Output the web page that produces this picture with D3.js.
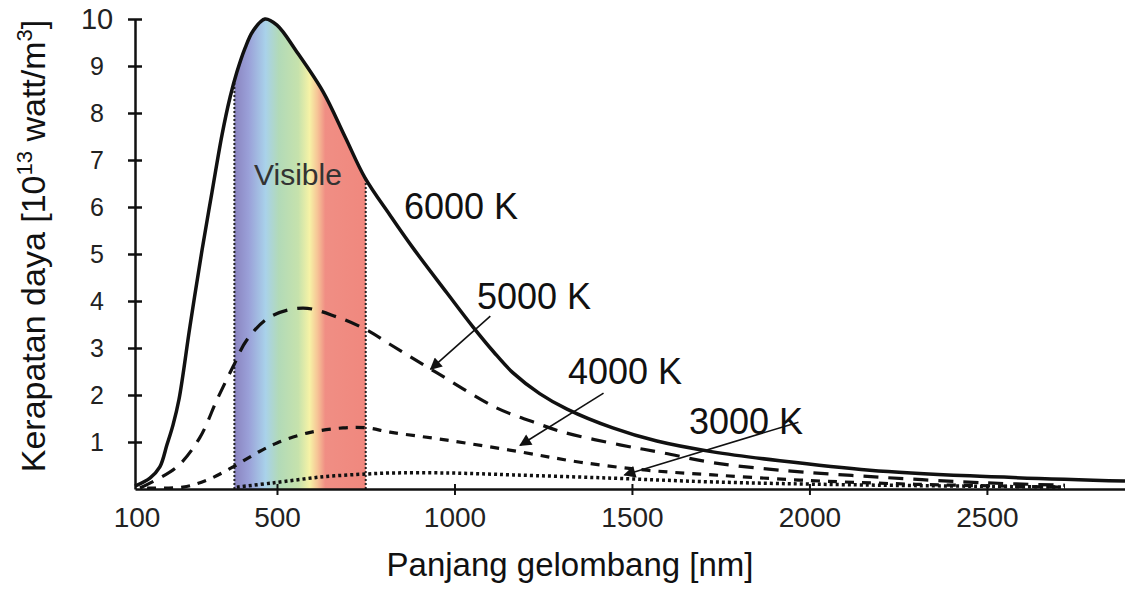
<!DOCTYPE html>
<html>
<head>
<meta charset="utf-8">
<script src="https://cdn.jsdelivr.net/npm/d3@7"></script>
<style>
  html, body { margin: 0; padding: 0; background: #fff; }
  svg { display: block; font-family: "Liberation Sans", Arial, sans-serif; }
</style>
</head>
<body>
<svg id="chart" width="1125" height="598"></svg>
<script>
// ---------- data ----------
const xTicks = [500, 1000, 1500, 2000, 2500];
const xTickLabels = ["500", "1000", "1500", "2000", "2500"];
const xOriginLabel = "100";
const yTicks = [1, 2, 3, 4, 5, 6, 7, 8, 9, 10];

const wl6000 = [100, 142, 170, 190, 207, 224, 255, 289, 317, 345, 368, 387, 410, 432, 466, 500, 556, 630, 692, 748, 818, 883, 979, 1052, 1110, 1165, 1240, 1317, 1446, 1570, 1728, 1917, 2170, 2452, 2889];
const p6000  = [0.06, 0.23, 0.47, 0.94, 1.36, 1.91, 3.47, 5.09, 6.32, 7.53, 8.34, 8.87, 9.38, 9.74, 10.0, 9.87, 9.30, 8.45, 7.49, 6.62, 5.83, 5.13, 4.17, 3.45, 2.92, 2.47, 2.03, 1.70, 1.30, 1.02, 0.79, 0.60, 0.40, 0.28, 0.17];

const wl5000 = [114, 218, 283, 331, 376, 415, 480, 573, 669, 754, 818, 951, 1120, 1221, 1306, 1466, 1587, 1728, 1917, 2200, 2500, 2720];
const p5000  = [0.02, 0.47, 1.1, 1.9, 2.6, 3.17, 3.66, 3.85, 3.66, 3.38, 3.08, 2.47, 1.72, 1.43, 1.21, 0.94, 0.77, 0.56, 0.4, 0.25, 0.13, 0.08];

const wl4000 = [134, 235, 303, 376, 444, 500, 585, 686, 754, 818, 979, 1185, 1354, 1542, 1728, 1973, 2300, 2720];
const p4000  = [0.02, 0.04, 0.19, 0.47, 0.77, 0.98, 1.19, 1.3, 1.3, 1.21, 1.04, 0.79, 0.57, 0.4, 0.3, 0.19, 0.1, 0.04];

const wl3000 = [387, 489, 630, 754, 818, 987, 1165, 1446, 1728, 2114, 2720];
const p3000  = [0.04, 0.13, 0.26, 0.32, 0.34, 0.34, 0.3, 0.23, 0.15, 0.09, 0.04];

const visibleRange = [380, 750];
const spectrumStops = [
  [380, "#8a84c0"], [420, "#9aa0d8"], [468, "#a9d2ea"], [505, "#b2dab8"],
  [560, "#c6e2ac"], [592, "#f6f2a6"], [614, "#f6c496"], [636, "#f08e84"], [750, "#f0887e"]
];

const curveLabels = [
  { text: "6000 K", x: 404, y: 219 },
  { text: "5000 K", x: 477, y: 309 },
  { text: "4000 K", x: 568, y: 384 },
  { text: "3000 K", x: 689, y: 434 }
];
// arrows: from label toward curve, in wavelength/value space
const arrows = [
  { from: [1101, 3.68], to: [933, 2.55] },
  { from: [1420, 2.04], to: [1185, 0.93] },
  { from: [1969, 1.42], to: [1479, 0.30] }
];

// ---------- scales ----------
const svg = d3.select("#chart");
const x = d3.scaleLinear().domain([100, 2889]).range([135, 1125]);
const y = d3.scaleLinear().domain([0, 10]).range([489, 19]);

const defs = svg.append("defs");

const grad = defs.append("linearGradient")
  .attr("id", "spectrum").attr("gradientUnits", "userSpaceOnUse")
  .attr("x1", x(visibleRange[0])).attr("x2", x(visibleRange[1]))
  .attr("y1", 0).attr("y2", 0);
spectrumStops.forEach(s => {
  grad.append("stop")
    .attr("offset", (s[0] - visibleRange[0]) / (visibleRange[1] - visibleRange[0]))
    .attr("stop-color", s[1]);
});

const pts = (w, p) => w.map((d, i) => [d, p[i]]);
const curveType = d3.curveCatmullRom.alpha(0.5);
const lineGen = d3.line().x(d => x(d[0])).y(d => y(d[1])).curve(curveType);
const areaGen = d3.area().x(d => x(d[0])).y0(y(0)).y1(d => y(d[1])).curve(curveType);

const d6000 = pts(wl6000, p6000);

defs.append("clipPath").attr("id", "under6000")
  .append("path").attr("d", areaGen(d6000));

// visible band
const band = svg.append("g").attr("clip-path", "url(#under6000)");
band.append("rect")
  .attr("x", x(visibleRange[0])).attr("width", x(visibleRange[1]) - x(visibleRange[0]))
  .attr("y", y(10.2)).attr("height", y(0) - y(10.2))
  .attr("fill", "url(#spectrum)");
visibleRange.forEach(v => {
  band.append("line")
    .attr("x1", x(v)).attr("x2", x(v)).attr("y1", y(0)).attr("y2", y(10.2))
    .attr("stroke", "#222").attr("stroke-width", 2).attr("stroke-dasharray", "2,2");
});

svg.append("text")
  .attr("x", 254).attr("y", 185)
  .attr("font-size", 30).attr("fill", "#333").text("Visible");

// curves
svg.append("path").attr("d", lineGen(pts(wl3000, p3000)))
  .attr("fill", "none").attr("stroke", "#111").attr("stroke-width", 3.5)
  .attr("stroke-dasharray", "3,3");
svg.append("path").attr("d", lineGen(pts(wl4000, p4000)))
  .attr("fill", "none").attr("stroke", "#111").attr("stroke-width", 3.2)
  .attr("stroke-dasharray", "9,8");
svg.append("path").attr("d", lineGen(pts(wl5000, p5000)))
  .attr("fill", "none").attr("stroke", "#111").attr("stroke-width", 3.2)
  .attr("stroke-dasharray", "15,10");
svg.append("path").attr("d", lineGen(d6000))
  .attr("fill", "none").attr("stroke", "#111").attr("stroke-width", 3.5);

// axes
const yAxis = d3.axisLeft(y).tickValues(yTicks).tickSize(0).tickPadding(0).tickFormat(d3.format("d"));
const gy = svg.append("g").attr("transform", `translate(${x(100)},0)`).call(yAxis);
gy.select(".domain").attr("stroke", "#111").attr("stroke-width", 2.5);
gy.selectAll(".tick").append("line").attr("x1", -7).attr("x2", 7)
  .attr("stroke", "#111").attr("stroke-width", 2.5);
gy.selectAll(".tick text")
  .attr("x", -38).attr("text-anchor", "middle")
  .attr("font-size", d => d === 10 ? 29 : 25).attr("fill", "#222")
  .attr("font-family", "Liberation Sans, Arial, sans-serif");

const xAxis = d3.axisBottom(x).tickValues(xTicks).tickSize(0).tickPadding(18)
  .tickFormat((d, i) => xTickLabels[i]);
const gx = svg.append("g").attr("transform", `translate(0,${y(0)})`).call(xAxis);
gx.select(".domain").attr("stroke", "#111").attr("stroke-width", 2.5);
gx.selectAll(".tick").append("line").attr("y1", -5).attr("y2", 6)
  .attr("stroke", "#111").attr("stroke-width", 2);
gx.selectAll(".tick text").attr("font-size", 28).attr("fill", "#222")
  .attr("font-family", "Liberation Sans, Arial, sans-serif");
gx.append("text").attr("x", x(100) + 2).attr("y", 18).attr("dy", "0.71em")
  .attr("text-anchor", "middle").attr("font-size", 28).attr("fill", "#222")
  .attr("font-family", "Liberation Sans, Arial, sans-serif").text(xOriginLabel);

// curve labels
svg.selectAll(".clabel").data(curveLabels).enter().append("text")
  .attr("class", "clabel").attr("x", d => d.x).attr("y", d => d.y)
  .attr("font-size", 36).attr("fill", "#111").text(d => d.text);

// arrows
defs.append("marker").attr("id", "arrowhead")
  .attr("viewBox", "0 0 10 10").attr("refX", 9).attr("refY", 5)
  .attr("markerWidth", 16).attr("markerHeight", 12).attr("markerUnits", "userSpaceOnUse")
  .attr("orient", "auto")
  .append("path").attr("d", "M0,0 L10,5 L0,10 Z").attr("fill", "#111");
svg.selectAll(".arrow").data(arrows).enter().append("line")
  .attr("x1", d => x(d.from[0])).attr("y1", d => y(d.from[1]))
  .attr("x2", d => x(d.to[0])).attr("y2", d => y(d.to[1]))
  .attr("stroke", "#111").attr("stroke-width", 1.6)
  .attr("marker-end", "url(#arrowhead)");

// axis titles
svg.append("text").attr("x", 570).attr("y", 576).attr("text-anchor", "middle")
  .attr("font-size", 33).attr("fill", "#111").text("Panjang gelombang [nm]");

const yt = svg.append("text")
  .attr("transform", "translate(45,246) rotate(-90)")
  .attr("text-anchor", "middle").attr("font-size", 34).attr("fill", "#111");
yt.append("tspan").text("Kerapatan daya [10");
yt.append("tspan").attr("font-size", 22).attr("dy", -13).text("13");
yt.append("tspan").attr("dy", 13).text(" watt/m");
yt.append("tspan").attr("font-size", 22).attr("dy", -13).text("3");
yt.append("tspan").attr("dy", 13).text("]");
</script>
</body>
</html>
